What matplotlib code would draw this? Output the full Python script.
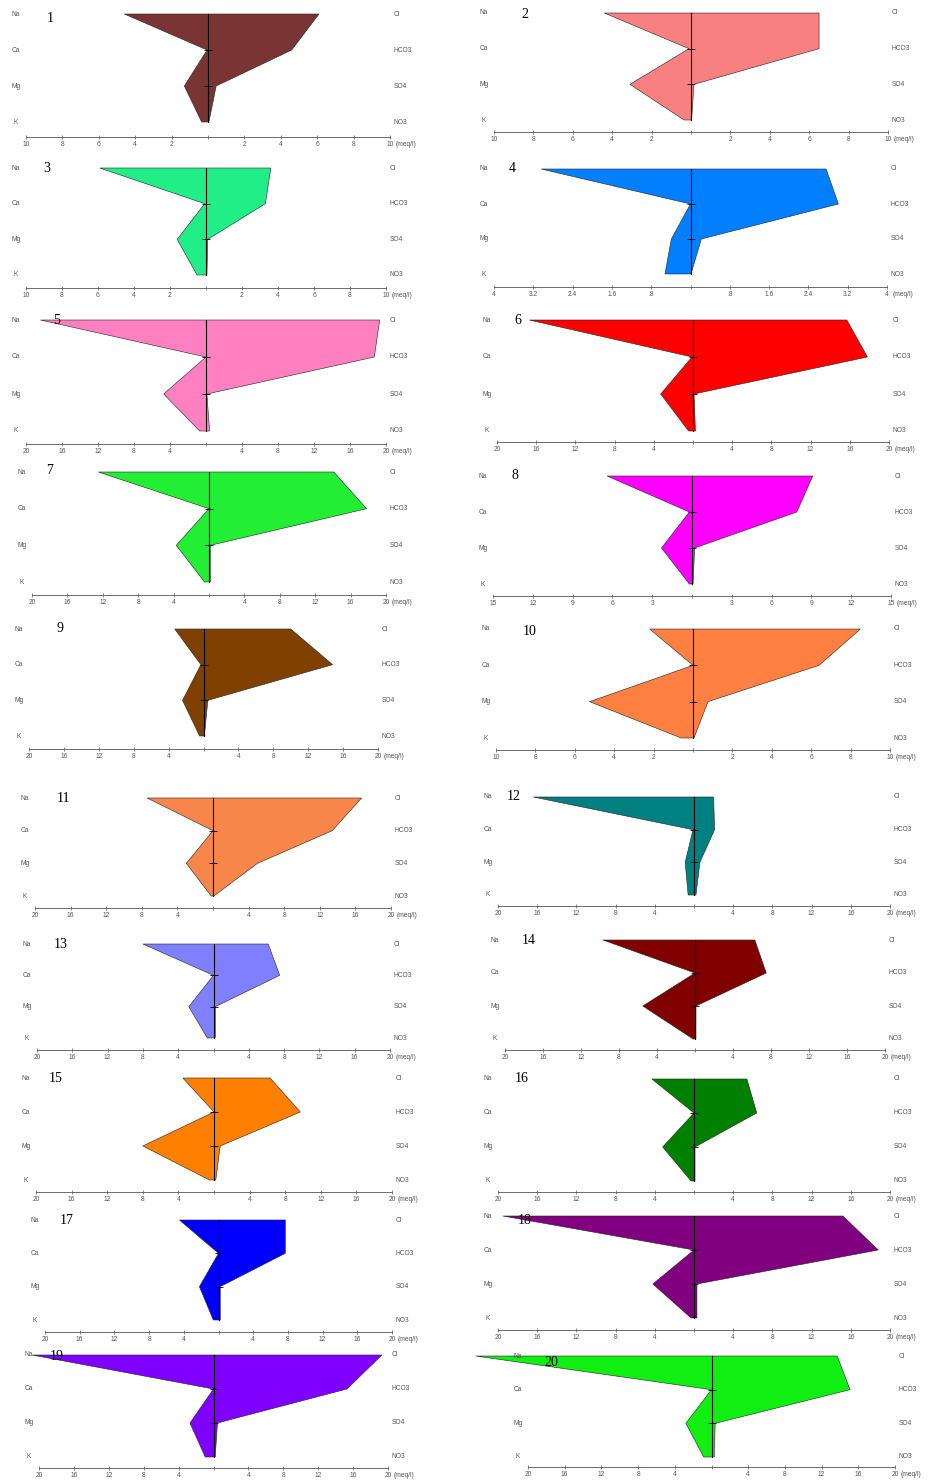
import matplotlib.pyplot as plt
import numpy as np
from matplotlib.patches import Polygon

W, H = 938, 1482

cations = ["Na", "Ca", "Mg", "K"]
anions = ["Cl", "HCO3", "SO4", "NO3"]
samples = [str(i) for i in range(1, 21)]

# concentrations in meq/l, one value per sample
na = [4.6, 4.4, 5.9, 3.04, 18.4, 16.7, 12.5, 6.4, 3.3, 2.2,
      7.4, 16.4, 8.0, 9.7, 3.5, 4.3, 4.5, 19.5, 20.8, 25.7]
ca = [0.05, 0.1, 0.07, 0.0, 0.0, 0.1, 0.0, 0.2, 0.3, 0.0,
      0.0, 0.1, 0.0, 0.0, 0.0, 0.0, 0.0, 0.0, 0.0, 0.0]
mg = [1.3, 3.1, 1.6, 0.39, 4.7, 3.3, 3.7, 2.3, 2.4, 5.25,
      3.0, 0.9, 2.8, 5.5, 8.0, 3.2, 2.2, 4.2, 2.7, 2.8]
k = [0.35, 0.35, 0.5, 0.52, 0.7, 0.45, 0.5, 0.2, 0.45, 0.6,
     0.2, 0.6, 0.7, 0.2, 0.5, 0.3, 0.6, 0.3, 0.95, 0.85]
cl = [6.1, 6.5, 3.6, 2.76, 19.3, 15.7, 14.1, 9.1, 10.0, 8.5,
      16.7, 2.0, 6.2, 6.3, 6.3, 5.4, 7.7, 15.2, 19.3, 13.7]
hco3 = [4.6, 6.5, 3.3, 3.01, 18.7, 17.8, 17.8, 7.9, 14.8, 6.4,
        13.4, 2.1, 7.5, 7.5, 9.7, 6.4, 7.7, 18.8, 15.3, 15.1]
so4 = [0.45, 0.15, 0.1, 0.22, 0.1, 0.1, 0.15, 0.2, 0.5, 0.76,
       5.0, 0.6, 0.2, 0.1, 0.7, 0.1, 0.2, 0.3, 0.45, 0.4]
no3 = [0.05, 0.03, 0.05, 0.01, 0.4, 0.25, 0.15, 0.08, 0.1, 0.05,
       0.1, 0.2, 0.2, 0.1, 0.2, 0.1, 0.2, 0.3, 0.2, 0.3]

# half-width of the x scale of each diagram
scales = [10, 10, 10, 4, 20, 20, 20, 15, 20, 10,
          20, 20, 20, 20, 20, 20, 20, 20, 20, 20]

colors = ["#7a3434", "#f88080", "#22ee88", "#0080ff", "#ff80c0",
          "#ff0000", "#22ee33", "#ff00ff", "#7f4000", "#ff8040",
          "#f8864a", "#008080", "#8080ff", "#800000", "#ff8000",
          "#008000", "#0000ff", "#800080", "#8000ff", "#11ee11"]

# pixel frame of each diagram: axis left, axis right, Na row, K row, axis line
frames = [
    (26, 390, 14, 122, 137), (494, 888, 13, 120, 132),
    (26, 386, 168, 275, 288), (494, 887, 169, 274, 287),
    (26, 386, 320, 431, 444), (497, 889, 320, 431, 442),
    (32, 386, 472, 582, 595), (493, 891, 476, 584, 596),
    (29, 378, 629, 736, 749), (496, 890, 629, 738, 750),
    (35, 391, 798, 896, 908), (498, 890, 797, 895, 906),
    (37, 390, 944, 1038, 1050), (505, 885, 940, 1039, 1050),
    (36, 392, 1078, 1180, 1192), (498, 890, 1079, 1181, 1192),
    (45, 392, 1220, 1320, 1332), (498, 890, 1216, 1318, 1330),
    (39, 388, 1355, 1457, 1468), (528, 895, 1356, 1457, 1467),
]
# pixel position of the sample number
number_xy = [(50, 18), (525, 14), (47, 168), (512, 169), (57, 320),
             (518, 320), (50, 471), (515, 476), (60, 629), (530, 631),
             (63, 798), (514, 797), (61, 944), (529, 940), (56, 1078),
             (522, 1078), (67, 1220), (525, 1221), (57, 1357), (551, 1362)]


def tick_text(v):
    s = f"{abs(v):g}"
    return s[1:] if s.startswith("0.") else s


fig = plt.figure(figsize=(W / 100, H / 100), dpi=100)
fig.patch.set_facecolor("white")

label_font = dict(family="Liberation Sans", fontsize=4.8, color="#555555")
rows = [3, 2, 1, 0]

for i in range(20):
    x0, x1, yn, yk, ya = frames[i]
    R = scales[i]
    row_px = (yk - yn) / 3
    bottom = -(ya - yk) / row_px

    ax = fig.add_axes([x0 / W, 1 - ya / H, (x1 - x0) / W, (ya - yn) / H])
    ax.set_xlim(-R, R)
    ax.set_ylim(bottom, 3)
    for side in ["top", "left", "right"]:
        ax.spines[side].set_visible(False)
    ax.spines["bottom"].set_linewidth(0.6)
    ax.spines["bottom"].set_color("#555555")
    ax.patch.set_alpha(0)

    ticks = np.linspace(-R, R, 11)
    labels = [tick_text(t) for t in ticks]
    labels[5] = ""
    ax.set_xticks(ticks)
    ax.set_xticklabels(labels, **label_font)
    ax.tick_params(axis="x", direction="inout", length=3.5, width=0.5,
                   color="#555555", pad=1.2)
    ax.set_yticks([])
    ax.annotate("(meq/l)", (R, bottom), xytext=(4.3, -2.9),
                textcoords="offset points", ha="left", va="top",
                annotation_clip=False, **label_font)

    left = [na[i], ca[i], mg[i], k[i]]
    right = [cl[i], hco3[i], so4[i], no3[i]]
    verts = [(-v, r) for v, r in zip(left, rows)]
    verts += [(v, r) for v, r in zip(right[::-1], rows[::-1])]
    ax.add_patch(Polygon(verts, closed=True, facecolor=colors[i],
                         edgecolor="#222222", linewidth=0.4,
                         clip_on=False, zorder=2))

    ax.plot([0, 0], [0, 3], color="black", lw=0.8, zorder=3, clip_on=False)
    ax.plot([0, 0], [2, 1], ls="none", marker="_", ms=6, mew=0.6,
            color="black", zorder=3, clip_on=False)

    for name, r in zip(cations, rows):
        ax.annotate(name, (-R, r), xytext=(-7.5, 0), textcoords="offset points",
                    ha="center", va="center", annotation_clip=False,
                    **label_font)
    for name, r in zip(anions, rows):
        ax.annotate(name, (R, r), xytext=(2.5, 0), textcoords="offset points",
                    ha="left", va="center", annotation_clip=False,
                    **label_font)

    nx, ny = number_xy[i]
    fig.text(nx / W, 1 - ny / H, samples[i], family="Liberation Serif",
             fontsize=10, ha="center", va="center", color="black", zorder=5)

fig.savefig("out.png", dpi=100, facecolor="white")
